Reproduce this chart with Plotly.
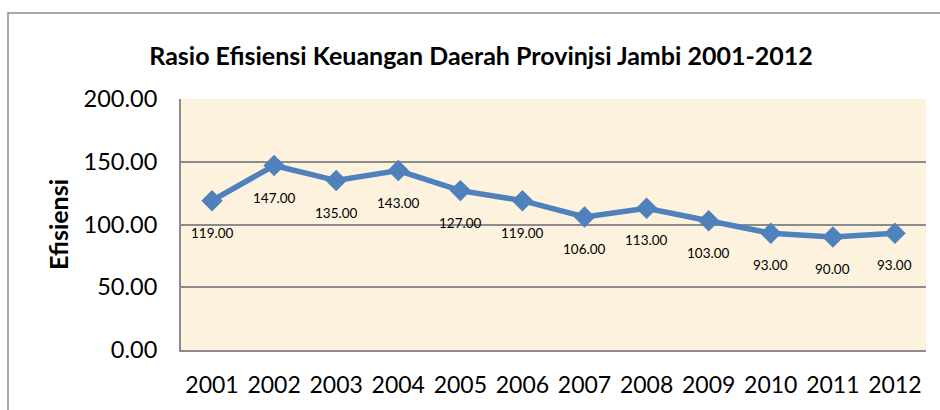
import plotly.graph_objects as go

years = ["2001", "2002", "2003", "2004", "2005", "2006", "2007", "2008", "2009", "2010", "2011", "2012"]
efisiensi = [119, 147, 135, 143, 127, 119, 106, 113, 103, 93, 90, 93]
y_ticks = [0, 50, 100, 150, 200]
y_tick_labels = ["0.00", "50.00", "100.00", "150.00", "200.00"]

FONT = "Lato, 'Open Sans', sans-serif"

fig = go.Figure()
fig.add_trace(go.Scatter(
    x=years, y=efisiensi, mode="lines+markers",
    line=dict(color="#4F81BD", width=5.5),
    marker=dict(symbol="diamond", size=16.5, color="#4F81BD"),
    hoverinfo="skip", showlegend=False,
))

for i, yv in enumerate(efisiensi):
    fig.add_annotation(x=i, y=yv, text=f"{yv:.2f}", showarrow=False,
                       xref="x", yref="y", yshift=-32,
                       font=dict(family=FONT, size=13.5, color="#000000"))

# outer chart border
fig.add_shape(type="rect", xref="paper", yref="paper",
              x0=-0.2322, x1=1.05, y0=-0.4, y1=1.3425,
              line=dict(color="#8C8C8C", width=1.5), fillcolor="rgba(0,0,0,0)", layer="below")

fig.update_layout(
    width=940, height=410,
    margin=dict(l=181, r=14, t=99, b=57),
    paper_bgcolor="#FFFFFF",
    plot_bgcolor="#FDF2DD",
    title=dict(text="<b>Rasio Efisiensi Keuangan Daerah Provinjsi Jambi 2001-2012</b>",
               x=481 / 940, xanchor="center", xref="container", y=1 - 56 / 410, yanchor="middle",
               font=dict(family=FONT, size=25, color="#000000")),
    font=dict(family=FONT, color="#000000"),
    xaxis=dict(type="category", range=[-0.5, 11.5], showgrid=False,
               showline=True, linecolor="#8C8C8C", linewidth=2,
               ticks="", tickfont=dict(size=23, family=FONT), ticklabelstandoff=13),
    yaxis=dict(range=[0, 200], tickvals=y_ticks, ticktext=y_tick_labels,
               showgrid=True, gridcolor="#8C8C8C", gridwidth=1.5,
               showline=True, linecolor="#8C8C8C", linewidth=2,
               zeroline=False, ticks="", tickfont=dict(size=23.5, family=FONT),
               ticklabelstandoff=17,
               title=dict(text="<b>Efisiensi</b>", font=dict(size=25, family=FONT), standoff=8)),
)

fig.write_html("out.html", config={"displayModeBar": False},
               post_script="document.body.style.margin='0';")
